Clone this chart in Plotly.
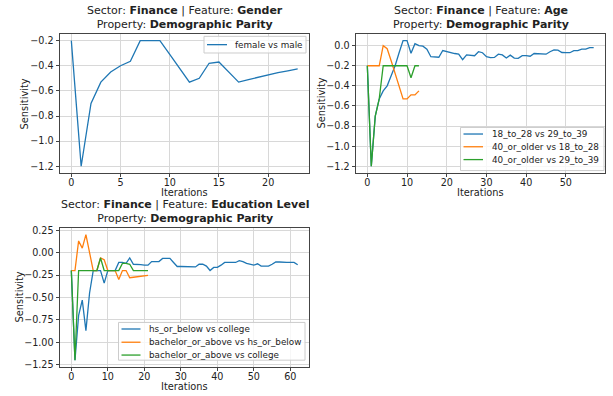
import plotly.graph_objects as go

# ---- data -------------------------------------------------------------
gender_female_vs_male = [-0.2, -1.2, -0.7, -0.53, -0.45, -0.4, -0.365, -0.2, -0.2, -0.2,
                         -0.31, -0.42, -0.53, -0.5, -0.38, -0.37, -0.45, -0.53, -0.51,
                         -0.49, -0.47, -0.455, -0.44, -0.425]

age_18_28_vs_29_39 = [-0.2, -1.2, -0.7, -0.53, -0.45, -0.4, -0.3, -0.2, -0.07, 0.05,
                      0.05, -0.075, 0.02, 0.0, -0.005, -0.035, -0.11, -0.11, -0.115, -0.048,
                      -0.06, -0.07, -0.078, -0.085, -0.14, -0.092, -0.096, -0.1, -0.06, -0.07,
                      -0.11, -0.118, -0.117, -0.085, -0.092, -0.123, -0.094, -0.123, -0.126, -0.1,
                      -0.1, -0.105, -0.078, -0.08, -0.082, -0.085, -0.06, -0.042, -0.045, -0.068,
                      -0.07, -0.07, -0.05, -0.05, -0.035, -0.035, -0.02, -0.02]
age_40_vs_18_28 = [-0.2, -0.2, -0.2, -0.2, 0.0, -0.03, -0.15, -0.28, -0.41, -0.53,
                   -0.53, -0.49, -0.49, -0.45]
age_40_vs_29_39 = [-0.2, -1.2, -0.7, -0.53, -0.2, -0.2, -0.2, -0.2, -0.2, -0.2,
                   -0.2, -0.32, -0.2, -0.2]

edu_hs_vs_college = [-0.2, -1.2, -0.7, -0.53, -0.87, -0.45, -0.2, -0.2, -0.2, -0.34,
                     -0.2, -0.2, -0.2, -0.11, -0.11, -0.12, -0.06, -0.13, -0.13, -0.135,
                     -0.14, -0.14, -0.1, -0.1, -0.1, -0.065, -0.065, -0.065, -0.11, -0.155,
                     -0.155, -0.155, -0.16, -0.16, -0.16, -0.13, -0.13, -0.15, -0.2, -0.165,
                     -0.165, -0.14, -0.11, -0.11, -0.11, -0.11, -0.09, -0.1, -0.12, -0.13,
                     -0.14, -0.125, -0.15, -0.15, -0.15, -0.13, -0.105, -0.105, -0.11, -0.11,
                     -0.11, -0.11, -0.135]
edu_bach_vs_hs = [-0.2, -0.2, 0.13, 0.05, 0.2, 0.0, -0.2, -0.2, -0.06, -0.08,
                  -0.2, -0.2, -0.2, -0.3, -0.2, -0.2, -0.28, -0.275, -0.27, -0.265,
                  -0.26, -0.255]
edu_bach_vs_college = [-0.2, -1.2, -0.2, -0.2, -0.2, -0.2, -0.2, -0.2, -0.06, -0.2,
                       -0.2, -0.2, -0.2, -0.2, -0.12, -0.12, -0.13, -0.2, -0.2, -0.2,
                       -0.2, -0.2]

BLUE, ORANGE, GREEN = "#1f77b4", "#ff7f0e", "#2ca02c"
FONT = "DejaVu Sans"
TEXT = "#222222"
W, H = 613, 396


def px(x, y):
    """Pixel position -> paper coordinates."""
    return x / W, 1 - y / H


panels = [
    ("", [("female vs male", gender_female_vs_male, BLUE)]),
    ("2", [("18_to_28 vs 29_to_39", age_18_28_vs_29_39, BLUE),
           ("40_or_older vs 18_to_28", age_40_vs_18_28, ORANGE),
           ("40_or_older vs 29_to_39", age_40_vs_29_39, GREEN)]),
    ("3", [("hs_or_below vs college", edu_hs_vs_college, BLUE),
           ("bachelor_or_above vs hs_or_below", edu_bach_vs_hs, ORANGE),
           ("bachelor_or_above vs college", edu_bach_vs_college, GREEN)]),
]

fig = go.Figure()
for suffix, series in panels:
    for name, vals, color in series:
        fig.add_trace(go.Scatter(
            x=list(range(len(vals))), y=vals, mode="lines", name=name,
            line=dict(color=color, width=1.3), showlegend=False,
            xaxis="x" + suffix, yaxis="y" + suffix,
        ))

top_row = [1 - 172 / H, 1 - 31 / H]
bot_row = [1 - 370 / H, 1 - 229 / H]
left_col = [60 / W, 309 / W]
right_col = [356 / W, 605 / W]

axis_common = dict(
    showline=True, mirror=True, linecolor="#444", linewidth=1,
    showgrid=True, gridcolor="#d8d8d8", gridwidth=1,
    ticks="outside", ticklen=3.5, tickcolor="#444",
    tickfont=dict(family=FONT, size=9.6, color=TEXT),
    zeroline=False,
)


def xax(domain, anchor, rng, dtick):
    return dict(axis_common, domain=domain, anchor=anchor, range=rng, dtick=dtick,
                tick0=0, ticklabelstandoff=-3)


def yax(domain, anchor, rng, dtick, fmt, tick0):
    return dict(axis_common, domain=domain, anchor=anchor, range=rng, dtick=dtick,
                tick0=tick0, tickformat=fmt)


fig.update_layout(
    width=W, height=H, margin=dict(l=0, r=0, t=0, b=0),
    paper_bgcolor="white", plot_bgcolor="white",
    font=dict(family=FONT, color=TEXT),
    showlegend=False,
    xaxis=xax(left_col, "y", [-1.15, 24.15], 5),
    yaxis=yax(top_row, "x", [-1.25, -0.15], 0.2, ".1f", -1.2),
    xaxis2=xax(right_col, "y2", [-2.85, 59.85], 10),
    yaxis2=yax(top_row, "x2", [-1.2625, 0.1125], 0.2, ".1f", -1.2),
    xaxis3=xax(left_col, "y3", [-3.1, 65.1], 10),
    yaxis3=yax(bot_row, "x3", [-1.27, 0.27], 0.25, ".2f", -1.25),
)

# ---- panel titles ----------------------------------------------------
titles = [(left_col, top_row, "Gender"),
          (right_col, top_row, "Age"),
          (left_col, bot_row, "Education Level")]
for xd, yd, feature in titles:
    fig.add_annotation(
        xref="paper", yref="paper", x=(xd[0] + xd[1]) / 2, y=yd[1],
        xanchor="center", yanchor="bottom", yshift=1, showarrow=False,
        text=f"Sector: <b>Finance</b> | Feature: <b>{feature}</b><br>Property: <b>Demographic Parity</b>",
        font=dict(family=FONT, size=11, color=TEXT),
    )

# ---- axis titles -------------------------------------------------------
label_font = dict(family=FONT, size=9.8, color=TEXT)
for cx, cy in [(184.5, 192), (480.5, 192), (184.5, 390)]:
    x, y = px(cx, cy)
    fig.add_annotation(xref="paper", yref="paper", x=x, y=y, text="Iterations",
                       showarrow=False, xanchor="center", yanchor="middle", font=label_font)
for cx, cy in [(24, 101.5), (321, 101.5), (19, 299.5)]:
    x, y = px(cx, cy)
    fig.add_annotation(xref="paper", yref="paper", x=x, y=y, text="Sensitivity",
                       textangle=-90, showarrow=False, xanchor="center", yanchor="middle",
                       font=label_font)

# ---- legends (box, line sample, label) ---------------------------------
legend_font = dict(family=FONT, size=8.8, color=TEXT)
legends = [
    # box (x0, y0, x1, y1), sample x0, sample x1, text x, row y's, series
    ((204, 33, 306, 50), 207, 227, 233, [41.5], panels[0][1]),
    ((460.5, 126, 604, 170), 463.5, 483, 489.5, [132.7, 145.7, 158.8], panels[1][1]),
    ((118.5, 325, 305, 363.5), 121.5, 140.5, 147, [331.7, 345.2, 358.3], panels[2][1]),
]
for (bx0, by0, bx1, by1), sx0, sx1, tx, rows, series in legends:
    x0, y0 = px(bx0, by0)
    x1, y1 = px(bx1, by1)
    fig.add_shape(type="rect", xref="paper", yref="paper", x0=x0, y0=y1, x1=x1, y1=y0,
                  fillcolor="rgba(255,255,255,0.8)", line=dict(color="#cccccc", width=1),
                  layer="above")
    for ry, (name, _vals, color) in zip(rows, series):
        lx0, ly = px(sx0, ry)
        lx1, _ = px(sx1, ry)
        fig.add_shape(type="line", xref="paper", yref="paper", x0=lx0, x1=lx1, y0=ly, y1=ly,
                      line=dict(color=color, width=1.3), layer="above")
        ax, ay = px(tx, ry)
        fig.add_annotation(xref="paper", yref="paper", x=ax, y=ay, text=name,
                           showarrow=False, xanchor="left", yanchor="middle",
                           font=legend_font)

fig.write_html("out.html")
